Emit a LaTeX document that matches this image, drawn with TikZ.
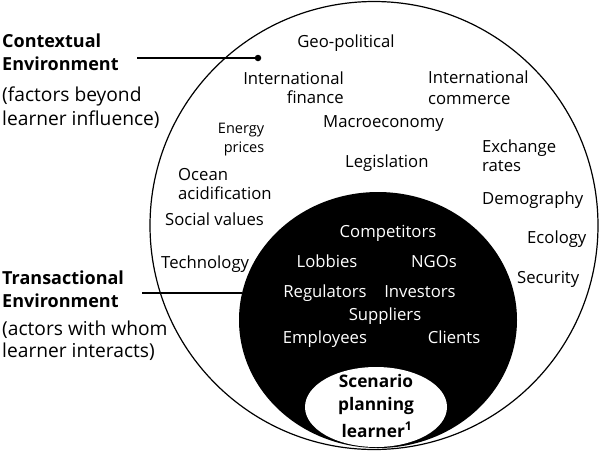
\documentclass[tikz,border=0pt]{standalone}
\usepackage{fontspec}
\setmainfont{Open Sans}
\usetikzlibrary{shapes.geometric}
\tikzset{
  lbl/.style={inner sep=0pt, font=\fontsize{16.7}{19}\selectfont},
  small/.style={inner sep=0pt, font=\fontsize{14.5}{17}\selectfont},
  sidebold/.style={inner sep=0pt, font=\bfseries\fontsize{18}{20}\selectfont},
  sidereg/.style={inner sep=0pt, font=\fontsize{19.2}{21}\selectfont},
  inlbl/.style={inner sep=0pt, text=white, font=\fontsize{16.7}{19}\selectfont},
  corelbl/.style={inner sep=0pt, font=\bfseries\fontsize{17.3}{20}\selectfont},
  leader/.style={line width=1.1pt},
}
\begin{document}
\begin{tikzpicture}[x=1pt,y=-1pt]
\useasboundingbox (0,0) rectangle (600,451);
% circles
\draw[line width=1.2pt] (374,225.5) circle [radius=224];
\fill[black] (378,320) ellipse [x radius=139, y radius=128];
\fill[white] (376,407) ellipse [x radius=71, y radius=40];

% contextual labels (left)
\node[sidebold, anchor=base west] (ctx1) at (2,47.7) {Contextual};
\node[sidebold, anchor=base west] (ctx2) at (2,70.7) {Environment};
\node[sidereg, anchor=base west] (ctx3) at (2,101.7) {(factors beyond};
\node[sidereg, anchor=base west] (ctx4) at (2,125) {learner influence)};
\coordinate (ctxL) at (137,58);
\node[circle, fill=black, inner sep=0pt, minimum size=6.5pt] (ctxdot) at (258,58) {};
\draw[leader] (ctxL) -- (ctxdot.center);

% transactional labels (left)
\node[sidebold, anchor=base west] (tr1) at (2,284) {Transactional};
\node[sidebold, anchor=base west] (tr2) at (2,307) {Environment};
\node[sidereg, anchor=base west] (tr3) at (2,335) {(actors with whom};
\node[sidereg, anchor=base west] (tr4) at (2,357) {learner interacts)};
\coordinate (trL) at (142,293);
\coordinate (trR) at (242,293);
\draw[leader] (trL) -- (trR);

% contextual factors
\node[lbl, anchor=base] (geo) at (346,47) {Geo-political};
\node[lbl, anchor=base east] (if1) at (344,84) {International};
\node[lbl, anchor=base east] (if2) at (344,103) {finance};
\node[lbl, anchor=base west] (ic1) at (428,83) {International};
\node[lbl, anchor=base west] (ic2) at (428,104) {commerce};
\node[lbl, anchor=base west] (macro) at (323,127) {Macroeconomy};
\node[small, anchor=base] (en1) at (241,133) {Energy};
\node[small, anchor=base] (en2) at (244,152) {prices};
\node[lbl, anchor=base west] (leg) at (345,167) {Legislation};
\node[lbl, anchor=base west] (ex1) at (482,152) {Exchange};
\node[lbl, anchor=base west] (ex2) at (482,171) {rates};
\node[lbl, anchor=base west] (oc1) at (178,180) {Ocean};
\node[lbl, anchor=base west] (oc2) at (178,199) {acidification};
\node[lbl, anchor=base west] (demo) at (482,204) {Demography};
\node[lbl, anchor=base west] (soc) at (165,225) {Social values};
\node[lbl, anchor=base west] (eco) at (527,243) {Ecology};
\node[lbl, anchor=base west] (tech) at (161,268) {Technology};
\node[lbl, anchor=base west] (sec) at (517,283) {Security};

% transactional actors
\node[inlbl, anchor=base] (comp) at (388,237) {Competitors};
\node[inlbl, anchor=base] (lob) at (327,267) {Lobbies};
\node[inlbl, anchor=base] (ngo) at (434,267) {NGOs};
\node[inlbl, anchor=base] (reg) at (325,297) {Regulators};
\node[inlbl, anchor=base] (inv) at (420,297) {Investors};
\node[inlbl, anchor=base] (sup) at (385,320) {Suppliers};
\node[inlbl, anchor=base] (emp) at (325,343) {Employees};
\node[inlbl, anchor=base] (cli) at (454,343) {Clients};

% learner
\node[corelbl, anchor=base] (sc1) at (376,387) {Scenario};
\node[corelbl, anchor=base] (sc2) at (376,410) {planning};
\node[corelbl, anchor=base] (sc3) at (377,437) {learner\textsuperscript{1}};
\end{tikzpicture}
\end{document}
